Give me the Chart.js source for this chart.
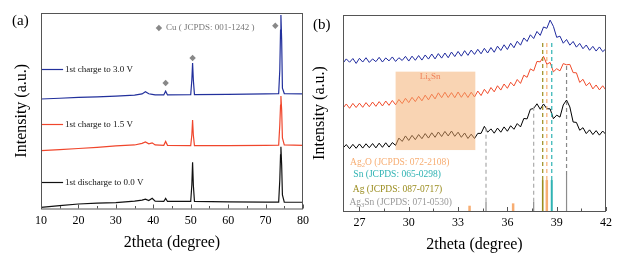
<!DOCTYPE html>
<html>
<head>
<meta charset="utf-8">
<script src="https://cdn.jsdelivr.net/npm/chart.js@4"></script>
<style>
  html, body { margin: 0; padding: 0; background: #fff; }
  #wrap { position: relative; width: 627px; height: 263px; }
  canvas { position: absolute; left: 0; top: 0; }
  .tag { position: absolute; font: 15px "Liberation Serif", serif; color: #000; }
</style>
</head>
<body>
<div id="wrap">
  <canvas id="chartA" width="627" height="263"></canvas>
  <canvas id="chartB" width="627" height="263"></canvas>
  <div class="tag" style="left:12px;top:12px">(a)</div>
  <div class="tag" style="left:313px;top:16px">(b)</div>
</div>
<script>
// ---- panel (a) data: 2theta vs stacked intensity (a.u.)
const thetaA = [10, 15, 20, 25, 30, 35, 37, 37.9, 38.8, 39.7, 40.5, 42.8, 43.3, 43.8, 50.0, 50.3, 50.5, 50.7, 51.0, 60, 70, 73.5, 73.8, 74.0, 74.1, 74.3, 74.5, 75, 80];
const charge30 = [56.0, 56.4, 56.8, 57.1, 57.5, 58.0, 58.6, 59.7, 58.7, 58.4, 58.1, 58.1, 60.0, 58.1, 58.2, 65.7, 74.4, 65.7, 58.3, 58.4, 58.6, 58.8, 70.8, 91.3, 99.0, 86.2, 61.6, 58.8, 58.6];
const charge15 = [29.6, 30.1, 30.7, 31.3, 32.0, 32.5, 33.3, 34.0, 33.1, 33.6, 32.5, 32.3, 34.3, 32.3, 32.2, 37.6, 45.3, 37.6, 32.2, 32.2, 32.3, 32.4, 42.7, 52.9, 57.5, 50.4, 36.1, 32.5, 32.3];
const discharge00 = [0.6, 1.5, 2.3, 2.7, 3.0, 3.8, 4.3, 4.8, 4.1, 5.2, 3.8, 3.6, 5.2, 3.6, 3.6, 12.0, 23.6, 12.0, 3.6, 3.4, 3.3, 3.3, 14.6, 27.4, 31.6, 22.3, 6.9, 3.3, 3.2];
const cuPeakTheta = [43.3, 50.5, 72.6];
const cuPeakMark = [64.2, 77.0, 93.5];
const ticksA = [10, 20, 30, 40, 50, 60, 70, 80];

// ---- panel (b) data: zoomed 26-42 degrees
const thetaB = [26.0, 26.2, 26.4, 26.6, 26.8, 27.0, 27.2, 27.4, 27.6, 27.8, 28.0, 28.2, 28.4, 28.6, 28.8, 29.0, 29.2, 29.4, 29.6, 29.8,
  30.0, 30.2, 30.4, 30.6, 30.8, 31.0, 31.2, 31.4, 31.6, 31.8, 32.0, 32.2, 32.4, 32.6, 32.8, 33.0, 33.2, 33.4, 33.6, 33.8,
  34.0, 34.2, 34.4, 34.6, 34.8, 35.0, 35.2, 35.4, 35.6, 35.8, 36.0, 36.2, 36.4, 36.6, 36.8, 37.0, 37.2, 37.4, 37.6, 37.8,
  38.0, 38.2, 38.4, 38.6, 38.8, 39.0, 39.2, 39.4, 39.6, 39.8, 40.0, 40.2, 40.4, 40.6, 40.8, 41.0, 41.2, 41.4, 41.6, 41.8, 42.0];
const zoom30 = [75.4, 77.6, 75.9, 77.8, 75.3, 77.9, 76.0, 78.2, 75.8, 77.6, 76.2, 78.4, 76.0, 78.1, 76.6, 78.6, 76.3, 78.2, 76.8, 78.9,
  76.5, 79.0, 76.9, 79.3, 77.0, 79.6, 77.5, 80.1, 77.6, 80.3, 78.0, 80.6, 78.2, 81.1, 78.8, 81.4, 79.0, 81.8, 79.4, 82.1,
  79.9, 82.5, 80.2, 83.0, 80.6, 83.4, 81.0, 84.1, 81.9, 84.8, 82.4, 85.6, 83.3, 86.6, 84.6, 88.3, 86.5, 89.9, 88.0, 91.6,
  89.6, 93.9, 93.2, 97.4, 94.2, 88.6, 89.2, 85.6, 87.5, 84.6, 86.5, 83.6, 85.5, 82.8, 84.7, 82.0, 84.0, 81.6, 83.7, 81.3, 82.8];
const zoom15 = [52.5, 54.6, 52.4, 54.9, 52.8, 55.0, 52.9, 55.3, 53.2, 55.6, 53.4, 55.8, 53.6, 56.1, 53.9, 56.4, 54.2, 56.9, 54.8, 57.5,
  55.3, 58.0, 55.8, 58.5, 56.2, 59.1, 56.7, 59.6, 57.2, 60.3, 57.8, 60.6, 57.9, 60.4, 57.8, 60.7, 58.0, 60.5, 57.9, 60.6,
  58.2, 61.2, 58.9, 62.1, 59.9, 63.0, 60.8, 63.9, 61.7, 64.8, 62.6, 65.7, 63.8, 67.1, 65.1, 69.3, 68.2, 72.5, 71.5, 76.3,
  76.1, 78.9, 74.9, 75.8, 71.0, 72.6, 71.5, 75.2, 74.6, 74.8, 70.6, 70.5, 65.6, 67.2, 63.9, 65.5, 62.3, 64.3, 61.8, 63.9, 61.6];
const zoom00 = [32.1, 33.9, 31.8, 34.0, 32.0, 34.2, 32.1, 34.3, 32.3, 34.4, 32.2, 34.6, 32.5, 34.8, 32.6, 34.9, 33.5, 37.2, 35.5, 38.3,
  36.0, 38.6, 36.4, 39.0, 36.9, 39.5, 37.2, 39.9, 37.6, 40.3, 38.0, 40.6, 38.3, 40.8, 38.1, 40.2, 37.6, 39.8, 37.0, 39.2,
  37.0, 39.6, 39.6, 43.2, 40.2, 41.9, 39.7, 42.3, 40.2, 42.9, 40.7, 43.5, 41.7, 44.6, 42.9, 47.2, 47.0, 51.9, 52.3, 54.7,
  51.9, 54.6, 52.2, 52.1, 47.1, 48.9, 47.9, 54.1, 56.6, 53.1, 45.4, 45.2, 41.2, 42.5, 39.5, 41.4, 39.0, 41.0, 38.7, 40.8, 39.0];
const ticksB = [27, 30, 33, 36, 39, 42];

// reference patterns (stick positions and relative heights)
const ag2oPos = [33.7, 36.35, 38.4], ag2oH = [2.7, 3.9, 15.8];
const snPos = [38.7], snH = [15.8];
const agPos = [38.15], agH = [15.8];
const ag3snPos = [34.7, 37.6, 39.6], ag3snH = [4.7, 4.7, 18.4];
// dashed guides: from stick top up to the matching peak
const guidePos = [34.7, 37.6, 38.15, 38.4, 38.7, 39.6];
const guideBase = [4.7, 4.7, 15.8, 15.8, 15.8, 18.4];
const guideTop = [42.3, 53.6, 85.7, 87.0, 86.4, 74.5];

const SERIF = '"Liberation Serif", "Times New Roman", serif';
const C = { blue: '#22309c', red: '#f0462c', black: '#111111', ag2o: '#f7ad72', sn: '#2fb3b3', ag: '#9a8c1e', ag3sn: '#8c8c8c' };

function pts(xs, ys) { return xs.map((x, i) => ({ x: x, y: ys[i] })); }

// text with subscripts: parts = [[text, isSub], ...]
function richText(ctx, parts, x, y, size) {
  let cx = x;
  parts.forEach(([t, sub]) => {
    ctx.font = (sub ? size * 0.7 : size) + 'px ' + SERIF;
    ctx.fillText(t, cx, sub ? y + size * 0.25 : y);
    cx += ctx.measureText(t).width;
  });
  return cx - x;
}

// frame + inward ticks + axis titles
const framePlugin = {
  id: 'frame',
  afterDraw(chart, args, o) {
    const { ctx, chartArea: a, scales: { x } } = chart;
    ctx.save();
    ctx.strokeStyle = '#555';
    ctx.lineWidth = 1;
    ctx.strokeRect(a.left + 0.5, a.top + 0.5, a.right - a.left - 1, a.bottom - a.top);
    ctx.beginPath();
    for (let v = o.first; v <= x.max + 1e-9; v += o.minor) {
      const px = Math.round(x.getPixelForValue(v)) + 0.5;
      const k = (v - o.first) / o.major;
      const len = Math.abs(k - Math.round(k)) < 1e-6 ? 4 : 2.5;
      ctx.moveTo(px, a.bottom);
      ctx.lineTo(px, a.bottom - len);
    }
    ctx.stroke();
    ctx.fillStyle = '#000';
    ctx.font = '16px ' + SERIF;
    ctx.textAlign = 'center';
    ctx.textBaseline = 'middle';
    ctx.fillText('2theta (degree)', (a.left + a.right) / 2, a.bottom + o.xTitle);
    ctx.translate(o.yTitleX, (a.top + a.bottom) / 2);
    ctx.rotate(-Math.PI / 2);
    ctx.fillText('Intensity (a.u.)', 0, 0);
    ctx.restore();
  }
};

function baseOptions(xmin, xmax, ticks, pad, axisBottom, frame) {
  return {
    responsive: false,
    animation: false,
    layout: { padding: { left: pad.left, right: pad.right, top: pad.top, bottom: 0 } },
    plugins: { legend: { display: false }, tooltip: { enabled: false }, frame: frame },
    elements: { point: { radius: 0 }, line: { tension: 0, borderWidth: 1 } },
    scales: {
      x: {
        type: 'linear', min: xmin, max: xmax,
        afterBuildTicks: s => { s.ticks = ticks.map(v => ({ value: v })); },
        ticks: { color: '#000', font: { family: SERIF, size: 12 }, padding: 5, maxRotation: 0, autoSkip: false },
        grid: { display: false, drawTicks: false },
        border: { display: false },
        afterFit: s => { s.height = 263 - axisBottom; }
      },
      y: {
        min: 0, max: 100,
        ticks: { display: false },
        grid: { display: false, drawTicks: false },
        border: { display: false },
        afterFit: s => { s.width = 0; }
      }
    }
  };
}

// ---------------- panel (a)
const textA = {
  id: 'textA',
  afterDatasetsDraw(chart) {
    const { ctx, scales: { x, y } } = chart;
    ctx.save();
    ctx.font = '9px ' + SERIF;
    ctx.textBaseline = 'middle';
    const legend = [['1st charge to 3.0 V', C.blue, 71.4], ['1st charge to 1.5 V', C.red, 43.2], ['1st discharge to 0.0 V', C.black, 13.4]];
    legend.forEach(([t, col, yv]) => {
      const py = Math.round(y.getPixelForValue(yv)) + 0.5;
      ctx.strokeStyle = col;
      ctx.lineWidth = 1.2;
      ctx.beginPath();
      ctx.moveTo(x.getPixelForValue(10), py);
      ctx.lineTo(x.getPixelForValue(15.9), py);
      ctx.stroke();
      ctx.fillStyle = '#111';
      ctx.fillText(t, x.getPixelForValue(16.4), py);
    });
    // Cu key
    const kx = x.getPixelForValue(41.5), ky = y.getPixelForValue(92.3);
    ctx.fillStyle = '#888';
    ctx.beginPath();
    ctx.moveTo(kx, ky - 3.2); ctx.lineTo(kx + 3.2, ky); ctx.lineTo(kx, ky + 3.2); ctx.lineTo(kx - 3.2, ky);
    ctx.closePath(); ctx.fill();
    ctx.fillStyle = '#777';
    ctx.fillText('Cu ( JCPDS: 001-1242 )', x.getPixelForValue(43.4), ky);
    ctx.restore();
  }
};

new Chart(document.getElementById('chartA'), {
  type: 'line',
  data: {
    datasets: [
      { data: pts(thetaA, charge30), borderColor: C.blue, borderWidth: 1.2 },
      { data: pts(thetaA, charge15), borderColor: C.red, borderWidth: 1.2 },
      { data: pts(thetaA, discharge00), borderColor: C.black, borderWidth: 1.2 },
      { data: pts(cuPeakTheta, cuPeakMark), showLine: false, pointStyle: 'rectRot', pointRadius: 3.2,
        backgroundColor: '#888', borderWidth: 0 }
    ]
  },
  options: baseOptions(10, 80, ticksA, { left: 41, right: 324, top: 13 }, 208.5,
    { first: 10, major: 10, minor: 5, xTitle: 34, yTitleX: 22 }),
  plugins: [framePlugin, textA]
});

// ---------------- panel (b)
const textB = {
  id: 'textB',
  afterDatasetsDraw(chart) {
    const { ctx, scales: { x, y } } = chart;
    ctx.save();
    // Li_xSn region
    const x0 = x.getPixelForValue(29.2), x1 = x.getPixelForValue(34.05);
    const y0 = y.getPixelForValue(71.1), y1 = y.getPixelForValue(31.1);
    ctx.fillStyle = 'rgba(244, 172, 110, 0.52)';
    ctx.fillRect(x0, y0, x1 - x0, y1 - y0);
    ctx.textAlign = 'left';
    ctx.textBaseline = 'middle';
    ctx.fillStyle = '#f0825a';
    const lx = [['Li', 0], ['x', 1], ['Sn', 0]];
    ctx.font = '9px ' + SERIF;
    const w = ctx.measureText('LiSn').width + ctx.measureText('x').width * 0.7;
    richText(ctx, lx, x.getPixelForValue(31.3) - w / 2, y.getPixelForValue(68.4), 9);
    const keys = [
      [[['Ag', 0], ['2', 1], ['O (JCPDS: 072-2108)', 0]], C.ag2o, 26.43, 24.8],
      [[['Sn (JCPDS: 065-0298)', 0]], C.sn, 26.63, 18.4],
      [[['Ag (JCPDS: 087-0717)', 0]], C.ag, 26.6, 11.2],
      [[['Ag', 0], ['3', 1], ['Sn (JCPDS: 071-0530)', 0]], '#999', 26.39, 4.2]];
    keys.forEach(([parts, col, xv, yv]) => {
      ctx.fillStyle = col;
      richText(ctx, parts, x.getPixelForValue(xv), y.getPixelForValue(yv), 9.5);
    });
    ctx.restore();
  }
};

const stickSets = [];
function addSticks(pos, h, col, w) {
  pos.forEach((p, i) => stickSets.push({ data: [{ x: p, y: 0 }, { x: p, y: h[i] }], borderColor: col, borderWidth: w }));
}
addSticks(ag2oPos, ag2oH, C.ag2o, 2.5);
addSticks(snPos, snH, C.sn, 2);
addSticks(agPos, agH, C.ag, 1.6);
addSticks(ag3snPos, ag3snH, C.ag3sn, 1.2);

const guideColors = ['#aaa', '#aaa', C.ag, C.ag2o, C.sn, '#888'];
const guideSets = guidePos.map((p, i) => ({
  data: [{ x: p, y: guideBase[i] }, { x: p, y: guideTop[i] }],
  borderColor: guideColors[i], borderWidth: 1.2, borderDash: [4, 3]
}));

new Chart(document.getElementById('chartB'), {
  type: 'line',
  data: {
    datasets: [
      ...guideSets,
      ...stickSets,
      { data: pts(thetaB, zoom30), borderColor: '#1f2a9e' },
      { data: pts(thetaB, zoom15), borderColor: '#f04a2a' },
      { data: pts(thetaB, zoom00), borderColor: '#000' }
    ]
  },
  options: baseOptions(26, 42, ticksB, { left: 343, right: 21, top: 15 }, 211,
    { first: 27, major: 3, minor: 1.5, xTitle: 34, yTitleX: 320 }),
  plugins: [framePlugin, textB]
});
</script>
</body>
</html>
